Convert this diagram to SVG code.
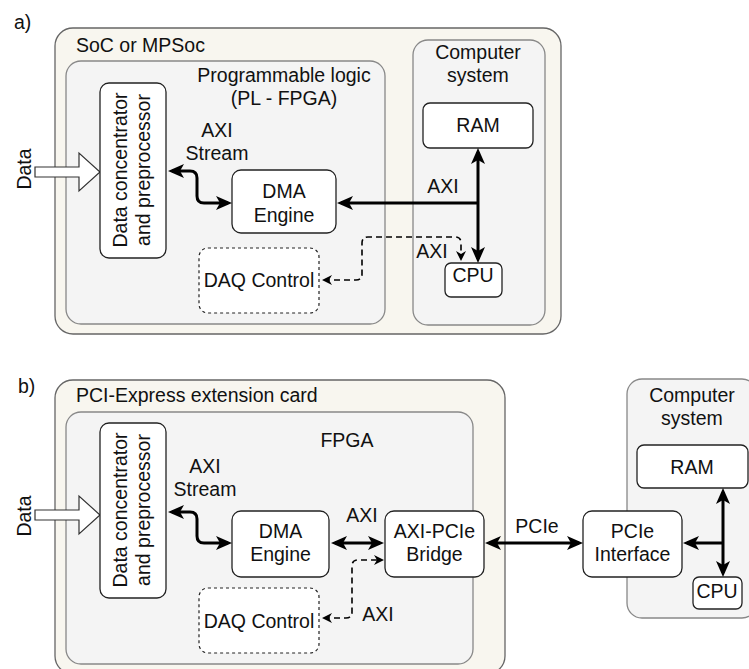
<svg xmlns="http://www.w3.org/2000/svg" width="749" height="669" viewBox="0 0 749 669">
<defs>
<style>
text{font-family:"Liberation Sans",Arial,sans-serif;font-size:19.5px;fill:#111}
.m{text-anchor:middle}
.outer{fill:#f8f6ef;stroke:#666;stroke-width:1.3}
.inner{fill:#f4f4f4;stroke:#888;stroke-width:1.3}
.box{fill:#fff;stroke:#222;stroke-width:1.3}
.dbox{fill:#fff;stroke:#222;stroke-width:1.2;stroke-dasharray:3 3}
.bold{fill:none;stroke:#000;stroke-width:3}
.dash{fill:none;stroke:#000;stroke-width:1.6;stroke-dasharray:6 4}
.blk{fill:#fff;stroke:#333;stroke-width:1.2}
</style>
<marker id="ab" viewBox="0 0 16 14" markerWidth="16" markerHeight="14" refX="12" refY="7" orient="auto-start-reverse" markerUnits="userSpaceOnUse">
<path d="M0,0 L16,7 L0,14 L4,7 z" fill="#000"/>
</marker>
<marker id="ad" viewBox="0 0 10 10" markerWidth="10" markerHeight="10" refX="8" refY="5" orient="auto-start-reverse" markerUnits="userSpaceOnUse">
<path d="M0,0 L10,5 L0,10 L3,5 z" fill="#000"/>
</marker>
</defs>

<!-- ===== a) ===== -->
<text x="14" y="29">a)</text>
<g id="soc">
<rect class="outer" x="55" y="28" width="506" height="306" rx="18"/>
<text x="76" y="52">SoC or MPSoc</text>
</g>
<g id="pl">
<rect class="inner" x="66" y="61" width="319" height="263" rx="15"/>
<text class="m" x="284" y="82">Programmable logic</text>
<text class="m" x="284" y="105">(PL - FPGA)</text>
</g>
<g id="cs-a">
<rect class="inner" x="413" y="40" width="132" height="285" rx="15"/>
<text class="m" x="478" y="59">Computer</text>
<text class="m" x="478" y="82">system</text>
</g>
<g id="data-a">
<polygon class="blk" points="35,167 79,167 79,153 100,172 79,191 79,177 35,177"/>
<text class="m" transform="translate(31,169) rotate(-90)">Data</text>
</g>
<g id="dcp-a">
<rect class="box" x="100" y="83" width="66" height="175" rx="9"/>
<text class="m" transform="translate(127,170) rotate(-90)">Data concentrator</text>
<text class="m" transform="translate(150,170) rotate(-90)">and preprocessor</text>
</g>
<g id="dma-a">
<rect class="box" x="232" y="170" width="104" height="63" rx="9"/>
<text class="m" x="284" y="198">DMA</text>
<text class="m" x="284" y="222">Engine</text>
</g>
<g id="daq-a">
<rect class="dbox" x="199" y="248" width="120" height="65" rx="9"/>
<text class="m" x="259" y="287">DAQ Control</text>
</g>
<g id="ram-a">
<rect class="box" x="423" y="103" width="110" height="45" rx="7"/>
<text class="m" x="478" y="132">RAM</text>
</g>
<g id="cpu-a">
<rect class="box" x="445" y="263" width="57" height="34" rx="6"/>
<text class="m" x="473" y="282">CPU</text>
</g>

<!-- ===== b) ===== -->
<text x="18" y="393">b)</text>
<g id="card">
<rect class="outer" x="55" y="380" width="450" height="294" rx="18"/>
<text x="76" y="402">PCI-Express extension card</text>
</g>
<g id="fpga">
<rect class="inner" x="66" y="412" width="407" height="252" rx="15"/>
<text class="m" x="347" y="447">FPGA</text>
</g>
<g id="cs-b">
<rect class="inner" x="627" y="379" width="130" height="239" rx="15"/>
<text class="m" x="692" y="402">Computer</text>
<text class="m" x="692" y="425">system</text>
</g>
<g id="data-b">
<polygon class="blk" points="35,510 79,510 79,496 100,515 79,534 79,520 35,520"/>
<text class="m" transform="translate(31,516) rotate(-90)">Data</text>
</g>
<g id="dcp-b">
<rect class="box" x="100" y="423" width="66" height="175" rx="9"/>
<text class="m" transform="translate(127,510) rotate(-90)">Data concentrator</text>
<text class="m" transform="translate(150,510) rotate(-90)">and preprocessor</text>
</g>
<g id="dma-b">
<rect class="box" x="232" y="511" width="97" height="66" rx="9"/>
<text class="m" x="280.5" y="538">DMA</text>
<text class="m" x="280.5" y="561">Engine</text>
</g>
<g id="daq-b">
<rect class="dbox" x="199" y="588" width="120" height="65" rx="9"/>
<text class="m" x="259" y="628">DAQ Control</text>
</g>
<g id="bridge">
<rect class="box" x="385" y="511" width="99" height="66" rx="9"/>
<text class="m" x="434.5" y="538">AXI-PCIe</text>
<text class="m" x="434.5" y="561">Bridge</text>
</g>
<g id="pcie-if">
<rect class="box" x="583" y="511" width="99" height="66" rx="9"/>
<text class="m" x="632.5" y="538">PCIe</text>
<text class="m" x="632.5" y="561">Interface</text>
</g>
<g id="ram-b">
<rect class="box" x="637" y="445" width="111" height="43" rx="7"/>
<text class="m" x="692" y="474">RAM</text>
</g>
<g id="cpu-b">
<rect class="box" x="693" y="577" width="49" height="32" rx="6"/>
<text class="m" x="717" y="598">CPU</text>
</g>

<!-- ===== connectors ===== -->
<g id="connectors">
<path class="bold" d="M172 171 L190 171 Q197 171 197 178 L197 196 Q197 203 204 203 L228 203" marker-start="url(#ab)" marker-end="url(#ab)"/>
<path class="bold" d="M478 203 L341 203" marker-end="url(#ab)"/>
<path class="bold" d="M478 152 L478 259" marker-start="url(#ab)" marker-end="url(#ab)"/>
<path class="dash" d="M324 280 L356 280 Q362 280 362 274 L362 243 Q362 237 368 237 L455 237 Q461 237 461 243 L461 259" marker-start="url(#ad)" marker-end="url(#ad)"/>

<path class="bold" d="M172 512 L190 512 Q197 512 197 519 L197 536 Q197 543 204 543 L228 543" marker-start="url(#ab)" marker-end="url(#ab)"/>
<path class="bold" d="M335 543 L380 543" marker-start="url(#ab)" marker-end="url(#ab)"/>
<path class="bold" d="M489 543 L579 543" marker-start="url(#ab)" marker-end="url(#ab)"/>
<path class="bold" d="M723 543 L687 543" marker-end="url(#ab)"/>
<path class="bold" d="M723 492 L723 573" marker-start="url(#ab)" marker-end="url(#ab)"/>
<path class="dash" d="M324 618 L346 618 Q352 618 352 612 L352 566 Q352 560 358 560 L382 560" marker-start="url(#ad)" marker-end="url(#ad)"/>

<text x="217" y="137" class="m">AXI</text>
<text x="217" y="160" class="m">Stream</text>
<text x="443" y="193" class="m">AXI</text>
<text x="432" y="258" class="m">AXI</text>
<text x="205" y="473" class="m">AXI</text>
<text x="205" y="496" class="m">Stream</text>
<text x="362" y="522" class="m">AXI</text>
<text x="378" y="621" class="m">AXI</text>
<text x="537" y="533" class="m">PCIe</text>
</g>
</svg>
